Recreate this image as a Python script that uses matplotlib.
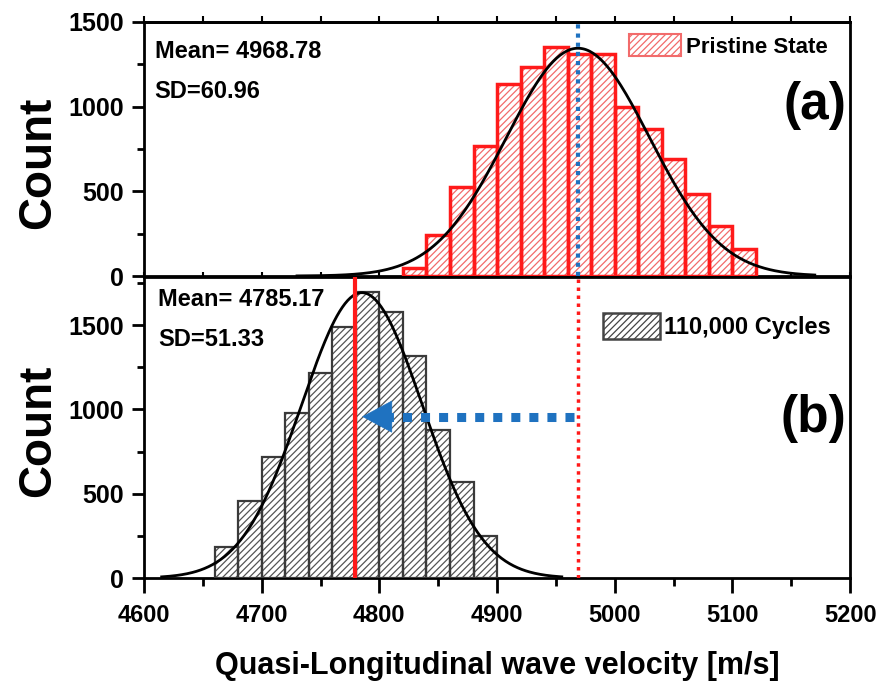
import numpy as np
import matplotlib
matplotlib.use('Agg')
import matplotlib.pyplot as plt
from matplotlib.patches import Patch
from matplotlib.ticker import MultipleLocator

plt.rcParams['font.family'] = ['Liberation Sans', 'DejaVu Sans']
plt.rcParams['hatch.linewidth'] = 0.9

# histogram data (bin width 20 m/s)
pristine_edges = [4820, 4840, 4860, 4880, 4900, 4920, 4940, 4960, 4980,
                  5000, 5020, 5040, 5060, 5080, 5100, 5120]
pristine_counts = [45, 242, 524, 770, 1134, 1236, 1354, 1311, 1311,
                   996, 866, 689, 482, 295, 159]

cycled_edges = [4660, 4680, 4700, 4720, 4740, 4760, 4780, 4800, 4820,
                4840, 4860, 4880, 4900]
cycled_counts = [186, 456, 719, 976, 1213, 1486, 1698, 1579, 1316,
                 877, 567, 251]

# fitted normal curves (values shown on the chart)
pristine_mean, pristine_sd, pristine_peak = 4968.78, 60.96, 1345
cycled_mean, cycled_sd, cycled_peak = 4785.17, 51.33, 1692
pristine_range = (4730, 5170)
cycled_range = (4615, 4955)

red_line_x = 4779      # solid red marker in (b)
arrow_y = 957

blue = '#1f72c0'


def gauss(x, m, s, a):
    return a * np.exp(-0.5 * ((x - m) / s) ** 2)


def draw_hist(ax, edges, counts, edge, hatch_col, lw):
    left = np.array(edges[:-1])
    w = np.diff(edges)
    ax.bar(left, counts, width=w, align='edge', color='white',
           edgecolor=hatch_col, hatch='/////', linewidth=0, zorder=2)
    ax.bar(left, counts, width=w, align='edge', fill=False,
           edgecolor=edge, linewidth=lw, zorder=3)


def style(ax, ymax):
    ax.set_xlim(4600, 5200)
    ax.set_ylim(0, ymax)
    ax.xaxis.set_major_locator(MultipleLocator(100))
    ax.xaxis.set_minor_locator(MultipleLocator(50))
    ax.yaxis.set_major_locator(MultipleLocator(500))
    ax.yaxis.set_minor_locator(MultipleLocator(250))
    for s in ax.spines.values():
        s.set_linewidth(2)
    ax.tick_params(axis='y', which='major', length=8.5, width=2,
                   labelsize=18, pad=6)
    ax.tick_params(axis='y', which='minor', length=5, width=2)
    for lab in ax.get_yticklabels() + ax.get_xticklabels():
        lab.set_fontweight('bold')


fig = plt.figure(figsize=(8.76, 6.94), dpi=100)
ax1 = fig.add_axes([0.1644, 0.6023, 0.806, 0.366])
ax2 = fig.add_axes([0.1644, 0.1671, 0.806, 0.4338])

# ---- (a) pristine
draw_hist(ax1, pristine_edges, pristine_counts, '#ff1a1a', '#f26b6b', 2.5)
xa = np.linspace(*pristine_range, 300)
ax1.plot(xa, gauss(xa, pristine_mean, pristine_sd, pristine_peak),
         color='black', lw=2, zorder=4)
ax1.axvline(pristine_mean, color=blue, lw=3, ls=(0, (1, 1.2)), zorder=5)
style(ax1, 1500)
ax1.tick_params(axis='x', which='both', direction='in', length=3, width=1.5,
                labelbottom=False)
top = ax1.secondary_xaxis('top')
top.xaxis.set_major_locator(MultipleLocator(50))
top.tick_params(direction='out', length=4, width=1.5, labeltop=False)
top.spines['top'].set_linewidth(2)
ax1.text(0.015, 0.93, 'Mean= 4968.78', transform=ax1.transAxes,
         fontsize=17, fontweight='bold', va='top')
ax1.text(0.015, 0.77, 'SD=60.96', transform=ax1.transAxes,
         fontsize=17, fontweight='bold', va='top')
ax1.text(0.995, 0.67, '(a)', transform=ax1.transAxes, fontsize=37,
         fontweight='bold', ha='right', va='center')
ax1.set_ylabel('Count', fontsize=33, fontweight='bold')
ax1.yaxis.set_label_coords(-0.119, 0.447)
h1 = Patch(facecolor='white', edgecolor='#f26b6b', hatch='/////', lw=1.5)
ax1.legend([h1], ['Pristine State'], loc='upper left',
           bbox_to_anchor=(0.658, 1.03), frameon=False,
           prop={'weight': 'bold', 'size': 16}, handlelength=2.35,
           handleheight=1.1, handletextpad=0.25)

# ---- (b) 110,000 cycles
draw_hist(ax2, cycled_edges, cycled_counts, '#3a3a3a', '#555555', 1.6)
xb = np.linspace(*cycled_range, 300)
ax2.plot(xb, gauss(xb, cycled_mean, cycled_sd, cycled_peak),
         color='black', lw=2, zorder=4)
ax2.axvline(red_line_x, color='#ff1a1a', lw=3, zorder=5)
ax2.axvline(pristine_mean, color='#ff1a1a', lw=2.5, ls=(0, (1, 1.3)),
            zorder=5)
ax2.plot([pristine_mean - 3, red_line_x + 22], [arrow_y, arrow_y],
         color=blue, lw=6.5, ls=(0, (1, 1)), solid_capstyle='butt',
         dash_capstyle='butt', zorder=6)
ax2.annotate('', xy=(red_line_x + 4, arrow_y),
             xytext=(red_line_x + 26, arrow_y),
             arrowprops=dict(arrowstyle='-|>,head_length=1.3,head_width=0.7',
                             color=blue, lw=0.5, mutation_scale=16),
             zorder=7)
style(ax2, 1785)
ax2.tick_params(axis='x', which='major', direction='out', length=11,
                width=2, labelsize=17, pad=8)
ax2.tick_params(axis='x', which='minor', direction='out', length=6, width=2)
for lab in ax2.get_xticklabels():
    lab.set_fontweight('bold')
ax2.text(0.02, 0.962, 'Mean= 4785.17', transform=ax2.transAxes,
         fontsize=17, fontweight='bold', va='top')
ax2.text(0.02, 0.832, 'SD=51.33', transform=ax2.transAxes,
         fontsize=17, fontweight='bold', va='top')
ax2.text(0.995, 0.53, '(b)', transform=ax2.transAxes, fontsize=37,
         fontweight='bold', ha='right', va='center')
ax2.set_ylabel('Count', fontsize=33, fontweight='bold')
ax2.yaxis.set_label_coords(-0.119, 0.488)
ax2.set_xlabel('Quasi-Longitudinal wave velocity [m/s]', fontsize=22,
               fontweight='bold', labelpad=17)
h2 = Patch(facecolor='white', edgecolor='#444444', hatch='/////', lw=1.8)
ax2.legend([h2], ['110,000 Cycles'], loc='upper left',
           bbox_to_anchor=(0.62, 0.95), frameon=False,
           prop={'weight': 'bold', 'size': 17}, handlelength=2.4,
           handleheight=1.3, handletextpad=0.2)

fig.savefig('out.png', dpi=100)
